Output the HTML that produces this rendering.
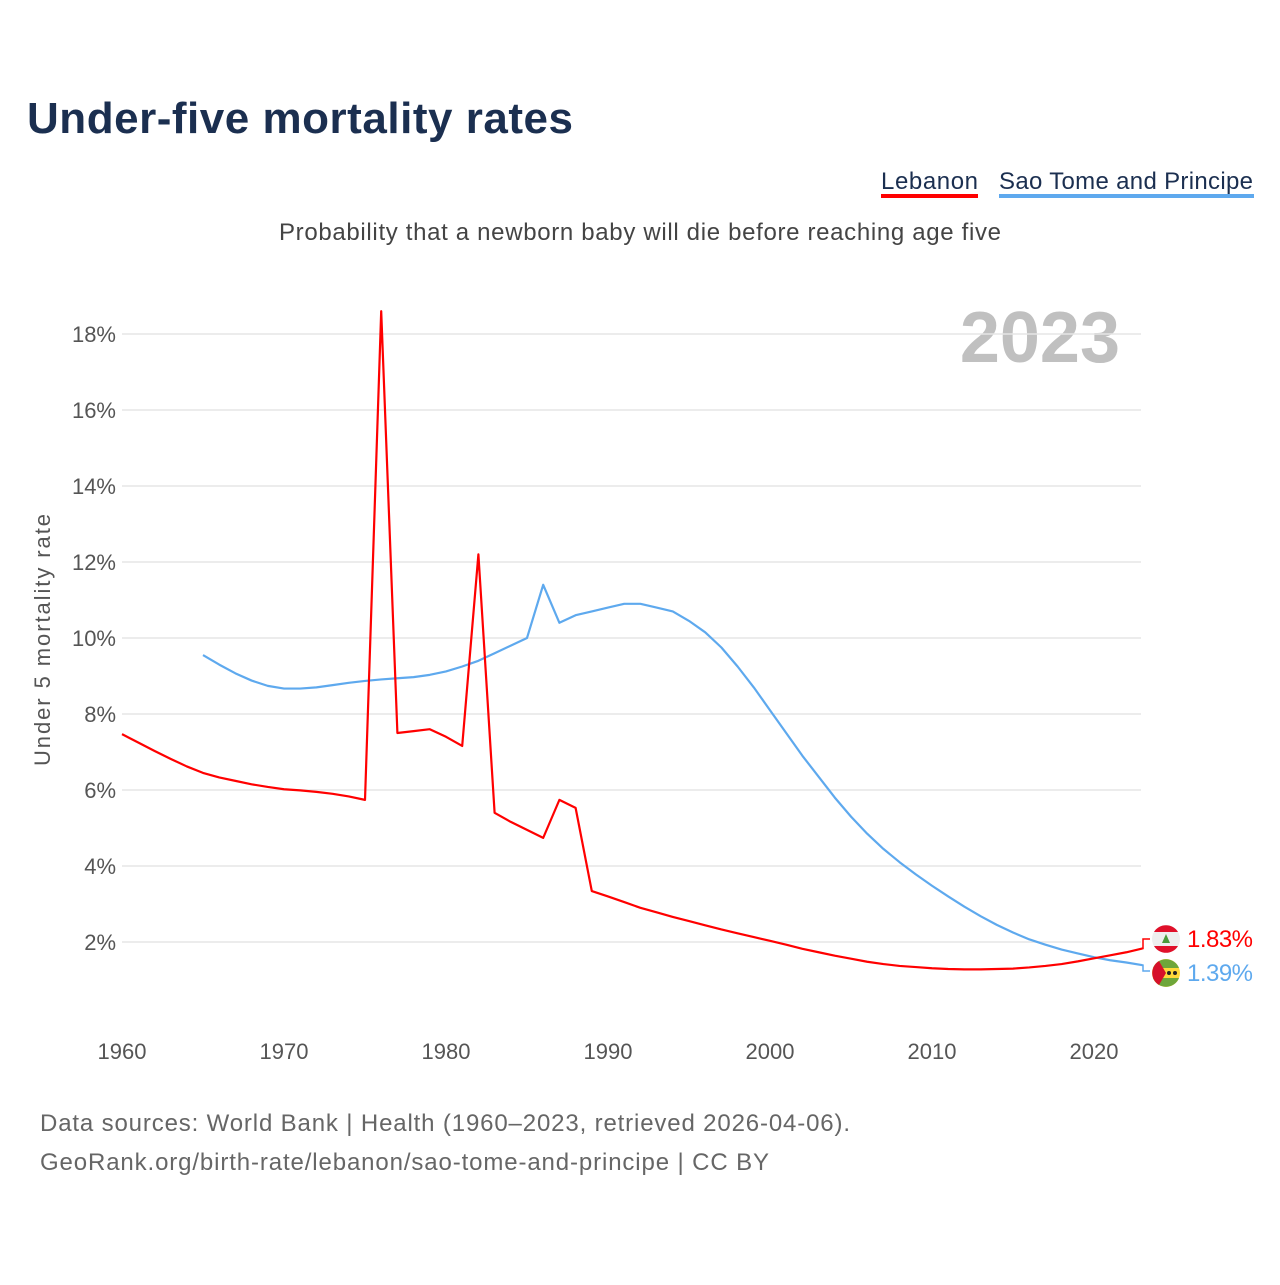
<!DOCTYPE html>
<html><head><meta charset="utf-8"><style>
body{margin:0;background:#fff;}
svg text{font-family:"Liberation Sans",sans-serif;}
</style></head><body>
<svg id="chart" width="1280" height="1280" xmlns="http://www.w3.org/2000/svg">
<text x="27" y="133" font-size="44" font-weight="bold" fill="#1b2f50" textLength="546">Under-five mortality rates</text>
<g>
<text x="881" y="189" font-size="24" fill="#1b2f50" textLength="97">Lebanon</text>
<rect x="881" y="194" width="97" height="4" fill="#ff0000"/>
<text x="999" y="189" font-size="24" fill="#1b2f50" textLength="254">Sao Tome and Principe</text>
<rect x="999" y="194" width="255" height="4" fill="#5ea9ee"/>
</g>
<text x="279" y="240" font-size="24" fill="#444" textLength="722">Probability that a newborn baby will die before reaching age five</text>
<text x="1120" y="362" font-size="72" font-weight="bold" fill="#c0c0c0" text-anchor="end">2023</text>
<text transform="translate(50,640) rotate(-90)" font-size="22" fill="#555" text-anchor="middle" textLength="252">Under 5 mortality rate</text>
<g id="grid"></g><g id="yt"></g><g id="xt"></g><g id="lines"></g><g id="ends"></g>
<text x="40" y="1131" font-size="24" fill="#666" textLength="810">Data sources: World Bank | Health (1960–2023, retrieved 2026-04-06).</text>
<text x="40" y="1170" font-size="24" fill="#666" textLength="729">GeoRank.org/birth-rate/lebanon/sao-tome-and-principe | CC BY</text>
</svg>
<script>
const yTicks=[2,4,6,8,10,12,14,16,18];
const xTicks=[1960,1970,1980,1990,2000,2010,2020];
const lebYears=[1960,1961,1962,1963,1964,1965,1966,1967,1968,1969,1970,1971,1972,1973,1974,1975,1976,1977,1978,1979,1980,1981,1982,1983,1984,1985,1986,1987,1988,1989,1990,1991,1992,1993,1994,1995,1996,1997,1998,1999,2000,2001,2002,2003,2004,2005,2006,2007,2008,2009,2010,2011,2012,2013,2014,2015,2016,2017,2018,2019,2020,2021,2022,2023];
const lebanon=[7.47,7.25,7.03,6.82,6.62,6.45,6.33,6.24,6.15,6.08,6.02,5.99,5.95,5.9,5.83,5.74,18.6,7.5,7.55,7.6,7.4,7.16,12.2,5.4,5.16,4.95,4.74,5.74,5.53,3.34,3.2,3.05,2.9,2.78,2.66,2.55,2.44,2.33,2.23,2.13,2.03,1.93,1.82,1.73,1.64,1.56,1.48,1.42,1.37,1.34,1.31,1.29,1.28,1.28,1.29,1.3,1.33,1.37,1.42,1.49,1.57,1.65,1.73,1.83];
const stpYears=[1965,1966,1967,1968,1969,1970,1971,1972,1973,1974,1975,1976,1977,1978,1979,1980,1981,1982,1983,1984,1985,1986,1987,1988,1989,1990,1991,1992,1993,1994,1995,1996,1997,1998,1999,2000,2001,2002,2003,2004,2005,2006,2007,2008,2009,2010,2011,2012,2013,2014,2015,2016,2017,2018,2019,2020,2021,2022,2023];
const saoTome=[9.55,9.3,9.07,8.88,8.74,8.67,8.67,8.7,8.76,8.82,8.87,8.91,8.94,8.97,9.03,9.12,9.25,9.4,9.6,9.8,10.0,11.4,10.4,10.6,10.7,10.8,10.9,10.9,10.8,10.7,10.45,10.15,9.75,9.25,8.7,8.1,7.5,6.9,6.35,5.8,5.3,4.85,4.45,4.1,3.78,3.48,3.2,2.93,2.68,2.45,2.25,2.07,1.93,1.8,1.7,1.6,1.52,1.46,1.39];
const X=y=>122+(y-1960)*16.2;
const Y=v=>1018-v*38;
const NS="http://www.w3.org/2000/svg";
function mk(t,a,p){const e=document.createElementNS(NS,t);for(const k in a)e.setAttribute(k,a[k]);p.appendChild(e);return e;}
const grid=document.getElementById('grid'),yt=document.getElementById('yt'),xt=document.getElementById('xt'),lines=document.getElementById('lines'),ends=document.getElementById('ends');
yTicks.forEach(v=>{
 const l=mk('line',{x1:122,x2:1141,y1:Y(v),y2:Y(v),stroke:'#e6e6e6','stroke-width':1.5},grid);
 
 
 const t=mk('text',{x:116,y:Y(v)+8,'font-size':22,fill:'#555','text-anchor':'end'},yt);
 t.textContent=v+'%';
 
 
});
xTicks.forEach(v=>{
 const t=mk('text',{x:X(v),y:1059,'font-size':22,fill:'#555','text-anchor':'middle'},xt);
 t.textContent=v;
 
 
});
function line(ys,vs,c,name){
 const p=mk('polyline',{points:ys.map((y,i)=>X(y)+','+Y(vs[i])).join(' '),fill:'none',stroke:c,'stroke-width':2.2,'stroke-linejoin':'round'},lines);
 
 
}
line(stpYears,saoTome,'#5ea9ee','line-sao-tome');
line(lebYears,lebanon,'#ff0000','line-lebanon');
const lv=lebanon[lebanon.length-1],sv=saoTome[saoTome.length-1];
const lx=X(2023);
const c1=mk('polyline',{points:`${lx},${Y(lv)} 1143,${Y(lv)} 1143,939 1150,939`,fill:'none',stroke:'#ff0000','stroke-width':1.5},ends);


const c2=mk('polyline',{points:`${lx},${Y(sv)} 1143,${Y(sv)} 1143,971 1150,971`,fill:'none',stroke:'#5ea9ee','stroke-width':1.5},ends);


const g1=mk('g',{},ends);


mk('circle',{cx:1166,cy:939,r:14,fill:'#eee'},g1);
mk('path',{d:'M1154,932 A14,14 0 0 1 1178,932 Z',fill:'#e0102a'},g1);
mk('path',{d:'M1154,946 A14,14 0 0 0 1178,946 Z',fill:'#e0102a'},g1);
mk('polygon',{points:'1166,934 1162,943 1170,943',fill:'#4a9a3a'},g1);
const g2=mk('g',{},ends);


mk('circle',{cx:1166,cy:973,r:14,fill:'#ffd83a'},g2);
mk('path',{d:'M1153,968 A14,14 0 0 1 1179,968 Z',fill:'#6ea63a'},g2);
mk('path',{d:'M1153,978 A14,14 0 0 0 1179,978 Z',fill:'#6ea63a'},g2);
mk('path',{d:'M1159,961 L1166,973 L1159,985 A14,14 0 0 1 1159,961 Z',fill:'#d6102a'},g2);
mk('circle',{cx:1169,cy:973,r:2,fill:'#222'},g2);
mk('circle',{cx:1175,cy:973,r:2,fill:'#222'},g2);
const t1=mk('text',{x:1187,y:947,'font-size':24,fill:'#ff0000',textLength:66},ends);
t1.textContent=lv.toFixed(2)+'%';


const t2=mk('text',{x:1187,y:981,'font-size':24,fill:'#5ea9ee',textLength:66},ends);
t2.textContent=sv.toFixed(2)+'%';


</script>
</body></html>
